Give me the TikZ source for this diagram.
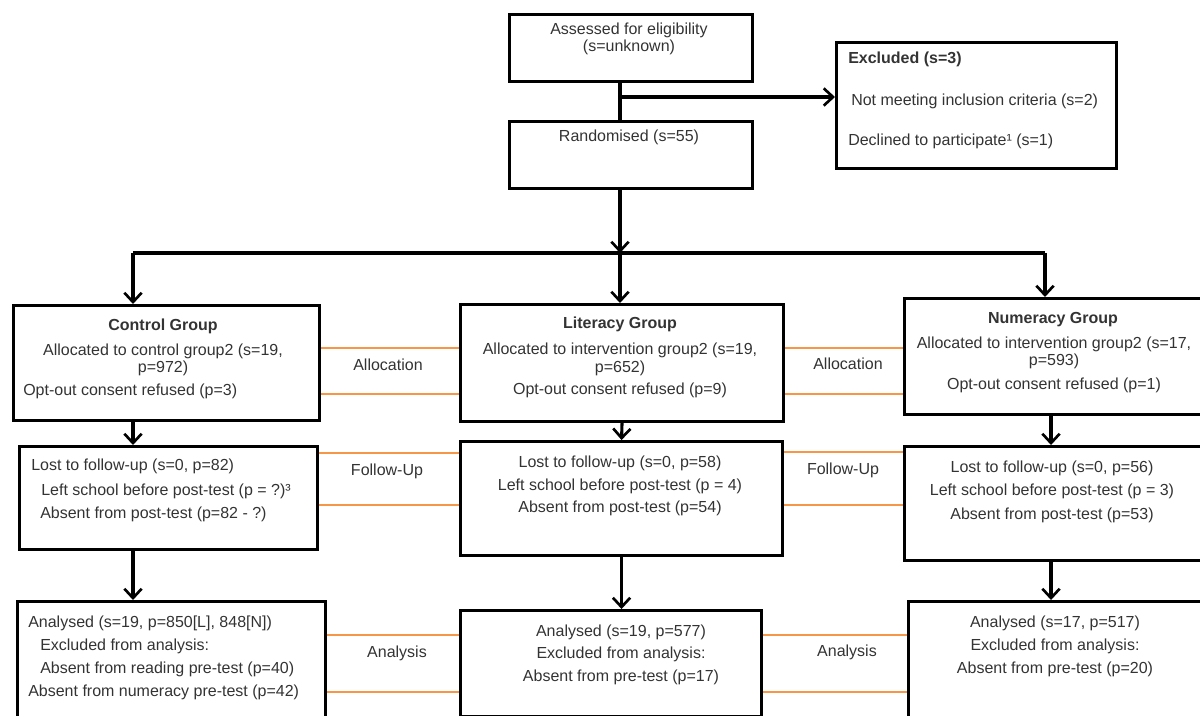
\documentclass[tikz,border=0pt]{standalone}
\usepackage{fontspec}
\setmainfont{Liberation Sans}
\usetikzlibrary{arrows.meta,positioning}
\definecolor{bandorange}{HTML}{F79646}
\definecolor{txtgray}{HTML}{333333}
\tikzset{
  box/.style 2 args={draw=black,line width=2.3pt,anchor=north west,inner sep=0pt,
    minimum width=#1*0.75pt,minimum height=#2*0.75pt},
  arr/.style={line width=2.3pt,-{Straight Barb[length=7pt,width=13pt,line width=2pt]}},
  conn/.style={line width=2.3pt},
  band/.style={draw=bandorange,line width=2.1pt},
  txt/.style={text=txtgray,font=\fontsize{12}{14}\selectfont,inner sep=0pt,anchor=mid,yshift=-1.5pt},
  ltxt/.style={txt,anchor=mid west},
  head/.style={txt,font=\fontsize{12}{14}\selectfont\bfseries},
}
\begin{document}
\begin{tikzpicture}[x=0.75pt,y=-0.75pt]
\path[use as bounding box] (0,0) rectangle (1200,715);
\clip (0,0) rectangle (1200,715);
% top part
\node[box={243}{67}] (assess) at (508,13) {};
\node[txt] (assess1) at (629,29) {Assessed for eligibility};
\node[txt] (assess2) at (629,46) {(s=unknown)};
\node[box={280}{126}] (excl) at (835,41) {};
\node[head,anchor=mid west] (excl1) at (848,58) {Excluded (s=3)};
\node[ltxt] (excl2) at (851,100) {Not meeting inclusion criteria (s=2)};
\node[ltxt] (excl3) at (848,140) {Declined to participate¹ (s=1)};
\node[box={243}{67}] (rand) at (508,120) {};
\node[txt] (rand1) at (629,136) {Randomised (s=55)};
\coordinate (split) at (620,97);
\coordinate (c1) at (133,253);
\coordinate (c2) at (620,253);
\coordinate (c3) at (1045,253);
\coordinate (c3b) at (1051,253);
\draw[conn] (split |- assess.south) -- (split |- rand.north);
\draw[arr] (split) -- (excl.west |- split);
\draw[arr] (c2 |- rand.south) -- (c2);
\draw[conn] (c1) -- (c3);
% allocation
\node[box={306}{115}] (ctrl) at (12,304) {};
\node[head] (ctrl1) at (163,325) {Control Group};
\node[txt] (ctrl2) at (163,350) {Allocated to control group2 (s=19,};
\node[txt] (ctrl3) at (163,367) {p=972)};
\node[ltxt] (ctrl4) at (23,390) {Opt-out consent refused (p=3)};
\node[box={323}{117}] (lit) at (459,303) {};
\node[head] (lit1) at (620,323) {Literacy Group};
\node[txt] (lit2) at (620,349) {Allocated to intervention group2 (s=19,};
\node[txt] (lit3) at (620,367) {p=652)};
\node[txt] (lit4) at (620,389) {Opt-out consent refused (p=9)};
\node[box={310}{116}] (num) at (903,297) {};
\node[head] (num1) at (1053,318) {Numeracy Group};
\node[txt] (num2) at (1054,343) {Allocated to intervention group2 (s=17,};
\node[txt] (num3) at (1054,360) {p=593)};
\node[txt] (num4) at (1054,384) {Opt-out consent refused (p=1)};
\draw[arr] (c1) -- (c1 |- ctrl.north);
\draw[arr] (c2) -- (c2 |- lit.north);
\draw[arr] (c3) -- (c3 |- num.north);
\node[txt] (allocL) at (388,365) {Allocation};
\node[txt] (allocR) at (848,364) {Allocation};
\draw[band] (ctrl.east |- 0,348) -- (lit.west |- 0,348);
\draw[band] (ctrl.east |- 0,394) -- (lit.west |- 0,394);
\draw[band] (lit.east |- 0,348) -- (num.west |- 0,348);
\draw[band] (lit.east |- 0,394) -- (num.west |- 0,394);
% follow-up
\node[box={298}{103}] (ctrlfu) at (18,445) {};
\node[ltxt] (ctrlfu1) at (31,465) {Lost to follow-up (s=0, p=82)};
\node[ltxt] (ctrlfu2) at (41,490) {Left school before post-test (p = ?)³};
\node[ltxt] (ctrlfu3) at (40,513) {Absent from post-test (p=82 - ?)};
\node[box={322}{114}] (litfu) at (459,440) {};
\node[txt] (litfu1) at (620,462) {Lost to follow-up (s=0, p=58)};
\node[txt] (litfu2) at (620,485) {Left school before post-test (p = 4)};
\node[txt] (litfu3) at (620,507) {Absent from post-test (p=54)};
\node[box={310}{114}] (numfu) at (903,445) {};
\node[txt] (numfu1) at (1052,467) {Lost to follow-up (s=0, p=56)};
\node[txt] (numfu2) at (1052,490) {Left school before post-test (p = 3)};
\node[txt] (numfu3) at (1052,514) {Absent from post-test (p=53)};
\draw[arr] (c1 |- ctrl.south) -- (c1 |- ctrlfu.north);
\draw[arr] (lit.south) -- (litfu.north);
\draw[arr] (c3b |- num.south) -- (c3b |- numfu.north);
\node[txt] (fuL) at (387,470) {Follow-Up};
\node[txt] (fuR) at (843,469) {Follow-Up};
\draw[band] (ctrlfu.east |- 0,453) -- (litfu.west |- 0,453);
\draw[band] (ctrlfu.east |- 0,505) -- (litfu.west |- 0,505);
\draw[band] (litfu.east |- 0,452) -- (numfu.west |- 0,452);
\draw[band] (litfu.east |- 0,505) -- (numfu.west |- 0,505);
% analysis
\node[box={308}{130}] (ctrlan) at (16,600) {};
\node[ltxt] (ctrlan1) at (28,622) {Analysed (s=19, p=850[L], 848[N])};
\node[ltxt] (ctrlan2) at (40,645) {Excluded from analysis:};
\node[ltxt] (ctrlan3) at (40,668) {Absent from reading pre-test (p=40)};
\node[ltxt] (ctrlan4) at (28,691) {Absent from numeracy pre-test (p=42)};
\node[box={301}{106}] (litan) at (459,609) {};
\node[txt] (litan1) at (621,631) {Analysed (s=19, p=577)};
\node[txt] (litan2) at (621,653) {Excluded from analysis:};
\node[txt] (litan3) at (621,676) {Absent from pre-test (p=17)};
\node[box={306}{130}] (numan) at (907,600) {};
\node[txt] (numan1) at (1055,622) {Analysed (s=17, p=517)};
\node[txt] (numan2) at (1055,645) {Excluded from analysis:};
\node[txt] (numan3) at (1055,668) {Absent from pre-test (p=20)};
\draw[arr] (c1 |- ctrlfu.south) -- (c1 |- ctrlan.north);
\draw[arr] (litfu.south) -- (litfu.south |- litan.north);
\draw[arr] (c3b |- numfu.south) -- (c3b |- numan.north);
\node[txt] (anL) at (397,652) {Analysis};
\node[txt] (anR) at (847,651) {Analysis};
\draw[band] (ctrlan.east |- 0,635) -- (litan.west |- 0,635);
\draw[band] (ctrlan.east |- 0,692) -- (litan.west |- 0,692);
\draw[band] (litan.east |- 0,635) -- (numan.west |- 0,635);
\draw[band] (litan.east |- 0,692) -- (numan.west |- 0,692);
\end{tikzpicture}
\end{document}
